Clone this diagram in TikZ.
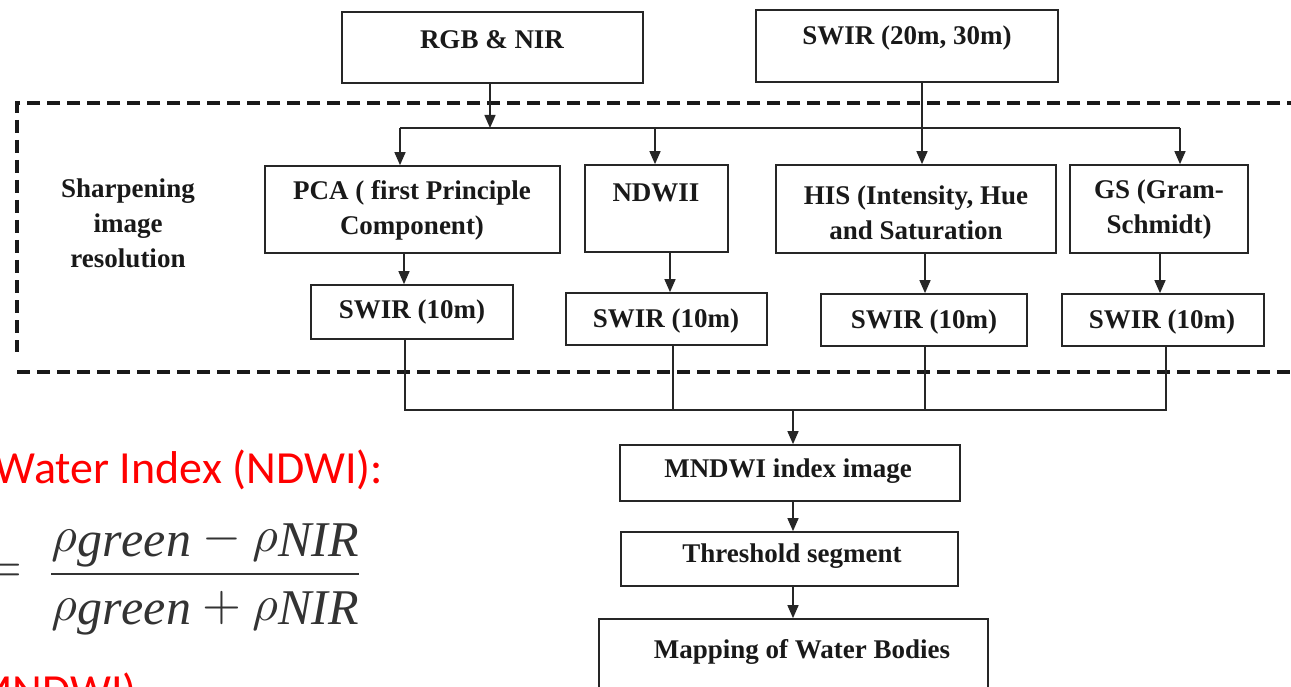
\documentclass[tikz,border=0pt]{standalone}
\usepackage{fontspec}
\setmainfont{Liberation Serif}
\newfontfamily\calib{Carlito}
\usetikzlibrary{arrows.meta}
\newcommand\rsub[1]{\lower0.9pt\hbox{$#1$}}
\begin{document}
\begin{tikzpicture}[x=1pt,y=-1pt,
 box/.style={draw=black!85, line width=1.7pt, inner sep=0pt},
 lbl/.style={font=\bfseries\fontsize{27}{35}\selectfont, text=black!90, align=center, inner sep=0pt},
 arr/.style={draw=black!85, line width=1.5pt, -{Triangle[length=13pt,width=11pt]}},
 ln/.style={draw=black!85, line width=1.5pt},
 dsh/.style={draw=black!90, line width=3.5pt, dash pattern=on 13pt off 7pt},
 redtxt/.style={font=\calib\fontsize{46}{54}\selectfont, text=red, inner sep=0pt}
]
\useasboundingbox (0,0) rectangle (1291,687);
\clip (0,0) rectangle (1291,687);

% dashed frame
\draw[dsh] (1300,103) -- (17,103) -- (17,352);
\draw[dsh] (17,372) -- (1300,372);

% boxes
\node[box, minimum width=301pt, minimum height=71pt] (rgb) at (492.5,47.5) {};
\node[box, minimum width=302pt, minimum height=72pt] (swir20) at (907,46) {};
\node[box, minimum width=295pt, minimum height=87pt] (pca) at (412.5,209.5) {};
\node[box, minimum width=143pt, minimum height=87pt] (ndwi) at (656.5,208.5) {};
\node[box, minimum width=280pt, minimum height=88pt] (his) at (916,209) {};
\node[box, minimum width=178pt, minimum height=88pt] (gs) at (1159,209) {};
\node[box, minimum width=202pt, minimum height=54pt] (sw1) at (412,312) {};
\node[box, minimum width=201pt, minimum height=52pt] (sw2) at (666.5,319) {};
\node[box, minimum width=206pt, minimum height=52pt] (sw3) at (924,320) {};
\node[box, minimum width=202pt, minimum height=52pt] (sw4) at (1163,320) {};
\node[box, minimum width=340pt, minimum height=56pt] (mndwi) at (790,473) {};
\node[box, minimum width=337pt, minimum height=54pt] (thr) at (789.5,559) {};
\node[box, minimum width=389pt, minimum height=101pt] (map) at (793.5,669.5) {};

% labels
\node[lbl] (trgb) at (492,40) {RGB \& NIR};
\node[lbl] (tswir20) at (907,38) {SWIR (20m, 30m)};
\node[lbl] (tpca) at (412,210) {PCA ( first Principle\\Component)};
\node[lbl] (tndwi) at (656,193) {NDWII};
\node[lbl] (this) at (916,213) {HIS (Intensity, Hue\\and Saturation};
\node[lbl] (tgs) at (1159,210) {GS (Gram-\\Schmidt)};
\node[lbl] (tsw1) at (412,312) {SWIR (10m)};
\node[lbl] (tsw2) at (666,321) {SWIR (10m)};
\node[lbl] (tsw3) at (924,322) {SWIR (10m)};
\node[lbl] (tsw4) at (1162,322) {SWIR (10m)};
\node[lbl] (tmndwi) at (788,471) {MNDWI index image};
\node[lbl] (tthr) at (792,556) {Threshold segment};
\node[lbl] (tmap) at (802,652) {Mapping of Water Bodies};
\node[lbl] (tsharp) at (128,223) {Sharpening\\image\\resolution};

% top connectors
\coordinate (spL) at (400,128);
\coordinate (spR) at (1180,128);
\coordinate (spA) at (490,128);
\coordinate (spN) at (655,128);
\coordinate (hx) at (922,0);
\draw[arr] (rgb.south -| spA) -- (spA);
\draw[ln] (spL) -- (spR);
\draw[arr] (spL) -- (spL |- pca.north);
\draw[arr] (spN) -- (spN |- ndwi.north);
\draw[arr] (spR) -- (spR |- gs.north);
\draw[arr] (swir20.south -| hx) -- (his.north -| hx);

% row 2 to row 3
\coordinate (a1) at (404,0);
\coordinate (a2) at (670,0);
\coordinate (a3) at (925,0);
\coordinate (a4) at (1160,0);
\draw[arr] (pca.south -| a1) -- (sw1.north -| a1);
\draw[arr] (ndwi.south -| a2) -- (sw2.north -| a2);
\draw[arr] (his.south -| a3) -- (sw3.north -| a3);
\draw[arr] (gs.south -| a4) -- (sw4.north -| a4);

% merge
\coordinate (m1) at (405,410);
\coordinate (b2) at (673,410);
\coordinate (b3) at (925,410);
\coordinate (m4) at (1166,410);
\coordinate (mA) at (793,410);
\draw[ln] (sw1.south -| m1) -- (m1) -- (m4) -- (sw4.south -| m4);
\draw[ln] (sw2.south -| b2) -- (b2);
\draw[ln] (sw3.south -| b3) -- (b3);
\draw[arr] (mA) -- (mndwi.north -| mA);
\draw[arr] (mndwi.south -| mA) -- (thr.north -| mA);
\draw[arr] (thr.south -| mA) -- (map.north -| mA);

% left red text and formula
\node[redtxt, anchor=base east] (ndwih) at (383,483) {Water Index (NDWI):};
\node[redtxt, anchor=base east] (mndwih) at (137,706) {MNDWI)};
\node[text=black!80, inner sep=0pt, scale=5, transform shape] (eq) at (3,573) {$=$};
\node[text=black!80, inner sep=0pt, scale=5, transform shape] (frm) at (205,579)
 {$\displaystyle\frac{\rho\rsub{\mathit{green}}-\rho\rsub{\mathit{NIR}}}{\rho\rsub{\mathit{green}}+\rho\rsub{\mathit{NIR}}}$};
\end{tikzpicture}
\end{document}
